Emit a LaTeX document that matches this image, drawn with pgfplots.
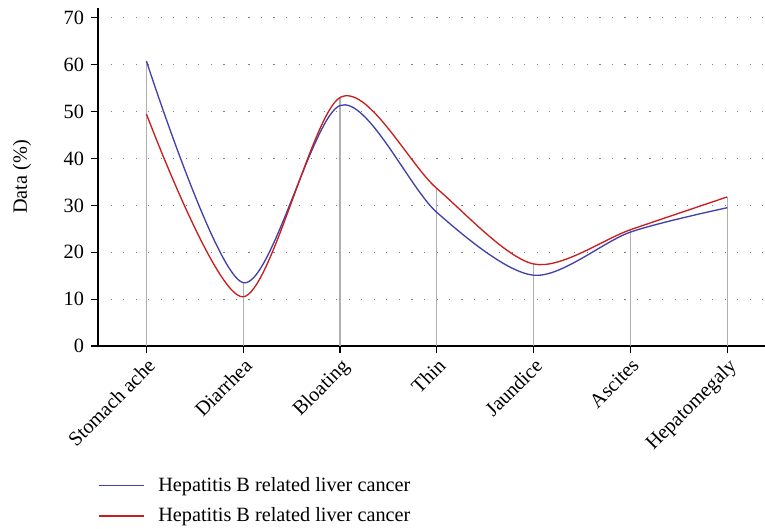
\documentclass[border=0pt]{standalone}
\usepackage{fontspec}
\setmainfont{Liberation Serif}
\usepackage{pgfplots}
\pgfplotsset{compat=1.18}
\definecolor{cblue}{RGB}{65,65,170}
\definecolor{cred}{RGB}{200,30,30}
\definecolor{cdrop}{RGB}{175,175,175}
\newcommand\f{\fontsize{15.2pt}{18pt}\selectfont}
\begin{document}
\begin{tikzpicture}
\begin{axis}[
  scale only axis,
  width=500.25pt, height=253.5pt,
  xmin=-0.5, xmax=6.39, ymin=0, ymax=72.1,
  axis x line*=bottom, axis y line*=left,
  axis line style={black, line width=0.8pt},
  xtick={0,1,2,3,4,5,6},
  xticklabels={Stomach ache,Diarrhea,Bloating,Thin,Jaundice,Ascites,Hepatomegaly},
  ytick={0,10,20,30,40,50,60,70},
  yticklabels={0,10,20,30,40,50,60,70},
  tick align=outside, major tick length=5.5pt,
  tick style={black, line width=0.8pt},
  x tick label style={rotate=45, anchor=north east, font=\f, inner sep=2pt},
  y tick label style={font=\f, xshift=-1.5pt},
  ymajorgrids,
  grid style={gray, line width=0.9pt, dash pattern=on 0.9pt off 8.5pt},
  ylabel={Data (\%)},
  ylabel style={font=\f, at={(axis description cs:-0.114,0.5)}, anchor=center},
  legend style={at={(axis description cs:0,-0.38)}, anchor=north west, draw=none, fill=none,
    font=\f, inner xsep=0pt, inner ysep=0pt, row sep=6.8pt, cells={anchor=west}},
  legend image code/.code={\draw[#1, line width=1pt] (0pt,0pt) -- (34pt,0pt); \path (42pt,0pt);},
  clip=false,
]
\addplot[ycomb, cdrop, line width=0.9pt, forget plot] coordinates {
  (0,60.8) (1,13.5) (2,53.0) (3,33.6) (4,17.5) (5,24.8) (6,31.8)};
\addplot[cblue, line width=1pt, smooth, tension=0.5] coordinates {
  (0,60.8) (1,13.5) (2,51.3) (3,28.5) (4,15.1) (5,24.3) (6,29.5)};
\addlegendentry{Hepatitis B related liver cancer}
\addplot[cred, line width=1pt, smooth, tension=0.5] coordinates {
  (0,49.5) (1,10.5) (2,53.0) (3,33.6) (4,17.5) (5,24.8) (6,31.8)};
\addlegendentry{Hepatitis B related liver cancer}
\coordinate (bl) at (rel axis cs:0,0);
\coordinate (tr) at (rel axis cs:1,1);
\end{axis}
\pgfresetboundingbox
\path[use as bounding box] ([xshift=-73.5pt,yshift=-137.25pt]bl) rectangle ([yshift=6pt]tr);
\end{tikzpicture}
\end{document}
